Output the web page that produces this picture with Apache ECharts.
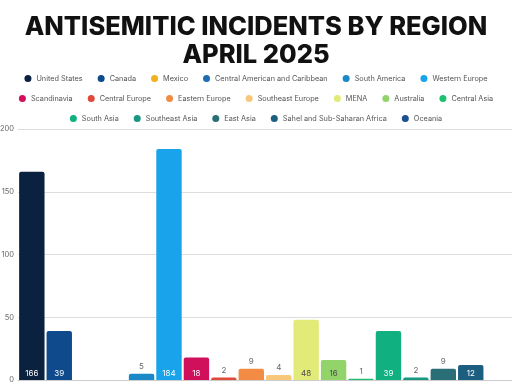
<!DOCTYPE html>
<html>
<head>
<meta charset="utf-8">
<script src="https://cdn.jsdelivr.net/npm/echarts@6/dist/echarts.min.js"></script>
<style>html,body{margin:0;padding:0;background:#fff;}#c{width:512px;height:384px;}</style>
</head>
<body>
<div id="c"></div>
<script>
const regions = ["United States","Canada","Mexico","Central American and Caribbean","South America","Western Europe","Scandinavia","Central Europe","Eastern Europe","Southeast Europe","MENA","Australia","Central Asia","South Asia","Southeast Asia","East Asia","Sahel and Sub-Saharan Africa","Oceania"];
const incidents = [166,39,0,0,5,184,18,2,9,4,48,16,1,39,2,9,12,0];
const yTicks = [0,50,100,150,200];
const legendRows = [regions.slice(0,6), regions.slice(6,13), regions.slice(13)];

const palette = ["#0b2140","#0e4a8c","#f0b020","#1e6db3","#1b88c8","#18a3ea","#d0105a","#e0483a","#f28c44","#f8c87a","#e2ea78","#92d46a","#1fbf72","#10b080","#17977f","#2a6f76","#1c5e80","#1b5190"];
const lightIdx = new Set([9,10,11]);

const FONT = "Inter, 'Open Sans', sans-serif";
const chart = echarts.init(document.getElementById('c'), null, {renderer:'canvas'});

const series = regions.map((name, i) => {
  const v = incidents[i];
  const inside = v >= 12;
  return {
    name: name,
    type: 'bar',
    data: [v],
    itemStyle: {color: palette[i], borderRadius: [2,2,0,0]},
    barWidth: 25.4,
    barGap: '8%',
    label: {
      show: true,
      position: inside ? 'insideBottom' : 'top',
      distance: inside ? 2 : 3,
      color: inside ? (lightIdx.has(i) ? '#4a4a4a' : '#ffffff') : '#666666',
      fontSize: 8,
      fontFamily: FONT,
      formatter: p => (p.value ? String(p.value) : '')
    }
  };
});

const legends = legendRows.map((row, r) => ({
  data: row,
  top: 70 + r * 20,
  left: 'center',
  icon: 'circle',
  itemWidth: 7,
  itemHeight: 7,
  itemGap: 15,
  textStyle: {fontSize: 7.3, color: '#555', fontFamily: FONT, padding: [0,0,0,0]}
}));

chart.setOption({
  animation: false,
  color: palette,
  title: {
    text: 'ANTISEMITIC INCIDENTS BY REGION\nAPRIL 2025',
    left: 'center',
    top: 8,
    textStyle: {fontSize: 25.5, fontWeight: 800, color: '#111', fontFamily: FONT, lineHeight: 28}
  },
  legend: legends,
  grid: {left: 18, right: 0, top: 129, bottom: 4, containLabel: false, outerBoundsMode: 'none'},
  xAxis: {
    type: 'category',
    data: ['April 2025'],
    axisLabel: {show: false},
    axisTick: {show: false},
    axisLine: {lineStyle: {color: '#cccccc'}}
  },
  yAxis: {
    type: 'value',
    min: yTicks[0],
    max: yTicks[yTicks.length-1],
    interval: yTicks[1] - yTicks[0],
    axisLabel: {fontSize: 7.5, color: '#666', fontFamily: FONT, margin: 4},
    splitLine: {lineStyle: {color: '#dddddd'}},
    axisLine: {show: false},
    axisTick: {show: false}
  },
  series: series
});
</script>
</body>
</html>
